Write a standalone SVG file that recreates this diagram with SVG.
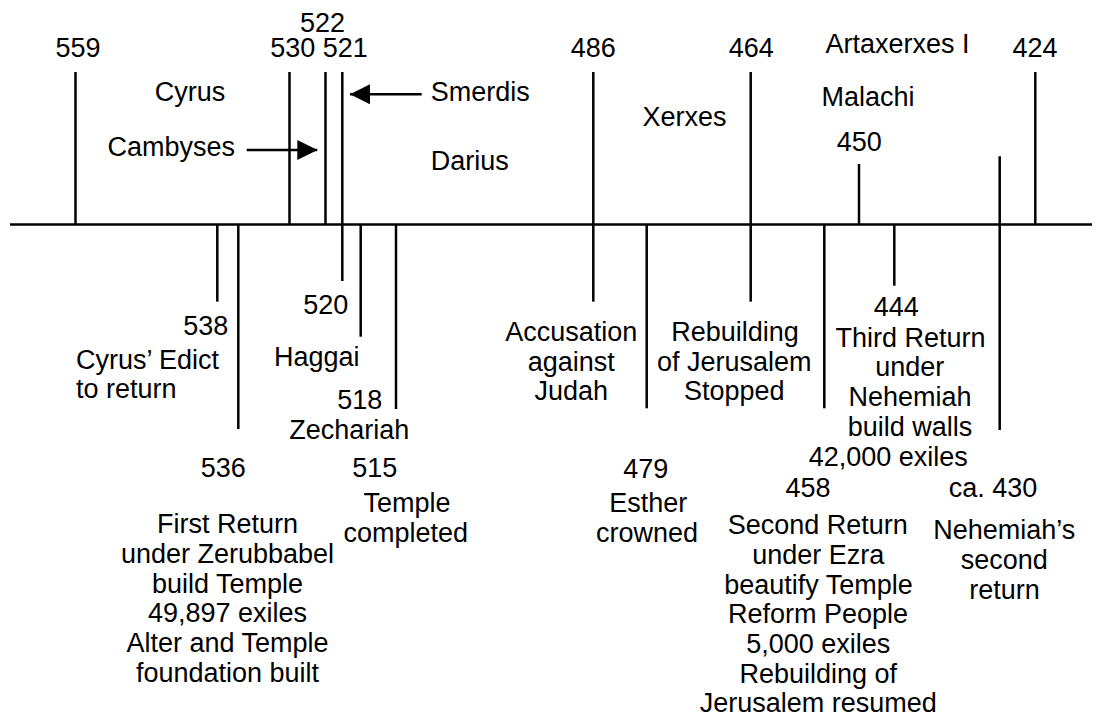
<svg xmlns="http://www.w3.org/2000/svg" width="1116" height="716" viewBox="0 0 1116 716">
<style>
text{font-family:"Liberation Sans",Arial,sans-serif;font-size:27px;fill:#000;text-anchor:middle}
.l{text-anchor:start}
.r{text-anchor:end}
line{stroke:#000;stroke-width:2.5}
</style>
<defs>
<marker id="ah" viewBox="0 0 20 20" refX="20" refY="10" markerWidth="20" markerHeight="20" markerUnits="userSpaceOnUse" orient="auto">
<path d="M0,0 L20,10 L0,20 Z" fill="#000"/>
</marker>
</defs>
<rect width="1116" height="716" fill="#fff"/>
<g id="axis"><line x1="10" y1="224.5" x2="1092" y2="224.5"/></g>

<g id="e559"><line x1="75.5" y1="72" x2="75.5" y2="224.5"/><text x="78" y="56.7">559</text></g>
<g id="cyrus"><text x="190" y="101">Cyrus</text></g>
<g id="cambyses"><text x="171.3" y="156">Cambyses</text></g>
<g id="e530"><line x1="289.5" y1="72" x2="289.5" y2="224.5"/><text x="292.8" y="56.7">530</text></g>
<g id="e522"><line x1="325.5" y1="72" x2="325.5" y2="224.5"/><text x="322.5" y="31.7">522</text></g>
<g id="e521"><line x1="342.3" y1="72" x2="342.3" y2="224.5"/><text x="345.3" y="56.7">521</text></g>
<g id="smerdis"><text class="l" x="430.7" y="101">Smerdis</text></g>
<g id="darius"><text x="469.8" y="169.5">Darius</text></g>
<g id="e486"><line x1="593.3" y1="72" x2="593.3" y2="301.7"/><text x="593.3" y="56.7">486</text>
<text x="571.3" y="341">Accusation</text><text x="571.3" y="370.7">against</text><text x="571.3" y="400.4">Judah</text></g>
<g id="xerxes"><text x="684.5" y="125.5">Xerxes</text></g>
<g id="e464"><line x1="750.7" y1="72" x2="750.7" y2="301.7"/><text x="751.3" y="56.7">464</text>
<text x="735" y="341">Rebuilding</text><text x="734.2" y="370.7">of Jerusalem</text><text x="734.2" y="400.4">Stopped</text></g>
<g id="artaxerxes"><text x="897.5" y="53">Artaxerxes I</text></g>
<g id="malachi"><text x="868" y="106">Malachi</text></g>
<g id="e450"><line x1="859" y1="164" x2="859" y2="224.5"/><text x="859.3" y="150.7">450</text></g>
<g id="e424"><line x1="1035.3" y1="72" x2="1035.3" y2="224.5"/><text x="1035" y="56.7">424</text></g>

<g id="e538"><line x1="217.3" y1="224.5" x2="217.3" y2="301.7"/><text class="r" x="228.3" y="335">538</text>
<text class="l" x="76" y="368.7">Cyrus’ Edict</text><text class="l" x="76" y="397.8">to return</text></g>
<g id="e536"><line x1="238.3" y1="224.5" x2="238.3" y2="429"/><text x="223.3" y="476.7">536</text>
<text x="227.5" y="533.3">First Return</text><text x="227.5" y="563">under Zerubbabel</text><text x="227.5" y="592.7">build Temple</text><text x="227.5" y="622.4">49,897 exiles</text><text x="227.5" y="652.1">Alter and Temple</text><text x="227.5" y="681.8">foundation built</text></g>
<g id="e520"><line x1="342.3" y1="224.5" x2="342.3" y2="281"/><line x1="360.7" y1="224.5" x2="360.7" y2="336.7"/><text x="325.8" y="314.3">520</text><text x="316.7" y="366">Haggai</text></g>
<g id="e518"><line x1="396" y1="224.5" x2="396" y2="409"/><text x="359.7" y="408.7">518</text><text x="349.3" y="439.3">Zechariah</text></g>
<g id="e515"><text x="374.7" y="476.7">515</text><text x="407" y="512">Temple</text><text x="405.8" y="541.7">completed</text></g>
<g id="e479"><line x1="646.7" y1="224.5" x2="646.7" y2="408.3"/><text x="645.8" y="477.7">479</text><text x="648.3" y="512">Esther</text><text x="647" y="541.7">crowned</text></g>
<g id="e458"><line x1="824.3" y1="224.5" x2="824.3" y2="408.3"/><text x="808" y="496.7">458</text>
<text x="817.8" y="534.3">Second Return</text><text x="818.3" y="564">under Ezra</text><text x="818.5" y="593.7">beautify Temple</text><text x="818" y="623.4">Reform People</text><text x="818.3" y="653.1">5,000 exiles</text><text x="818.3" y="682.8">Rebuilding of</text><text x="818.3" y="711.5">Jerusalem resumed</text></g>
<g id="e444"><line x1="894.3" y1="224.5" x2="894.3" y2="285.7"/><text x="896.3" y="316">444</text>
<text x="910.5" y="346.7">Third Return</text><text x="909.7" y="376.4">under</text><text x="910" y="406.1">Nehemiah</text><text x="910" y="435.8">build walls</text><text x="888.3" y="465.5">42,000 exiles</text></g>
<g id="e430"><line x1="999.7" y1="156.3" x2="999.7" y2="430"/><text x="993" y="496.7">ca. 430</text>
<text x="1004.2" y="539.3">Nehemiah’s</text><text x="1004.2" y="569">second</text><text x="1004.5" y="598.7">return</text></g>

<g id="connectors">
<line x1="246.7" y1="150" x2="317.3" y2="150" marker-end="url(#ah)"/>
<line x1="421.7" y1="94.3" x2="350" y2="94.3" marker-end="url(#ah)"/>
</g>
</svg>
